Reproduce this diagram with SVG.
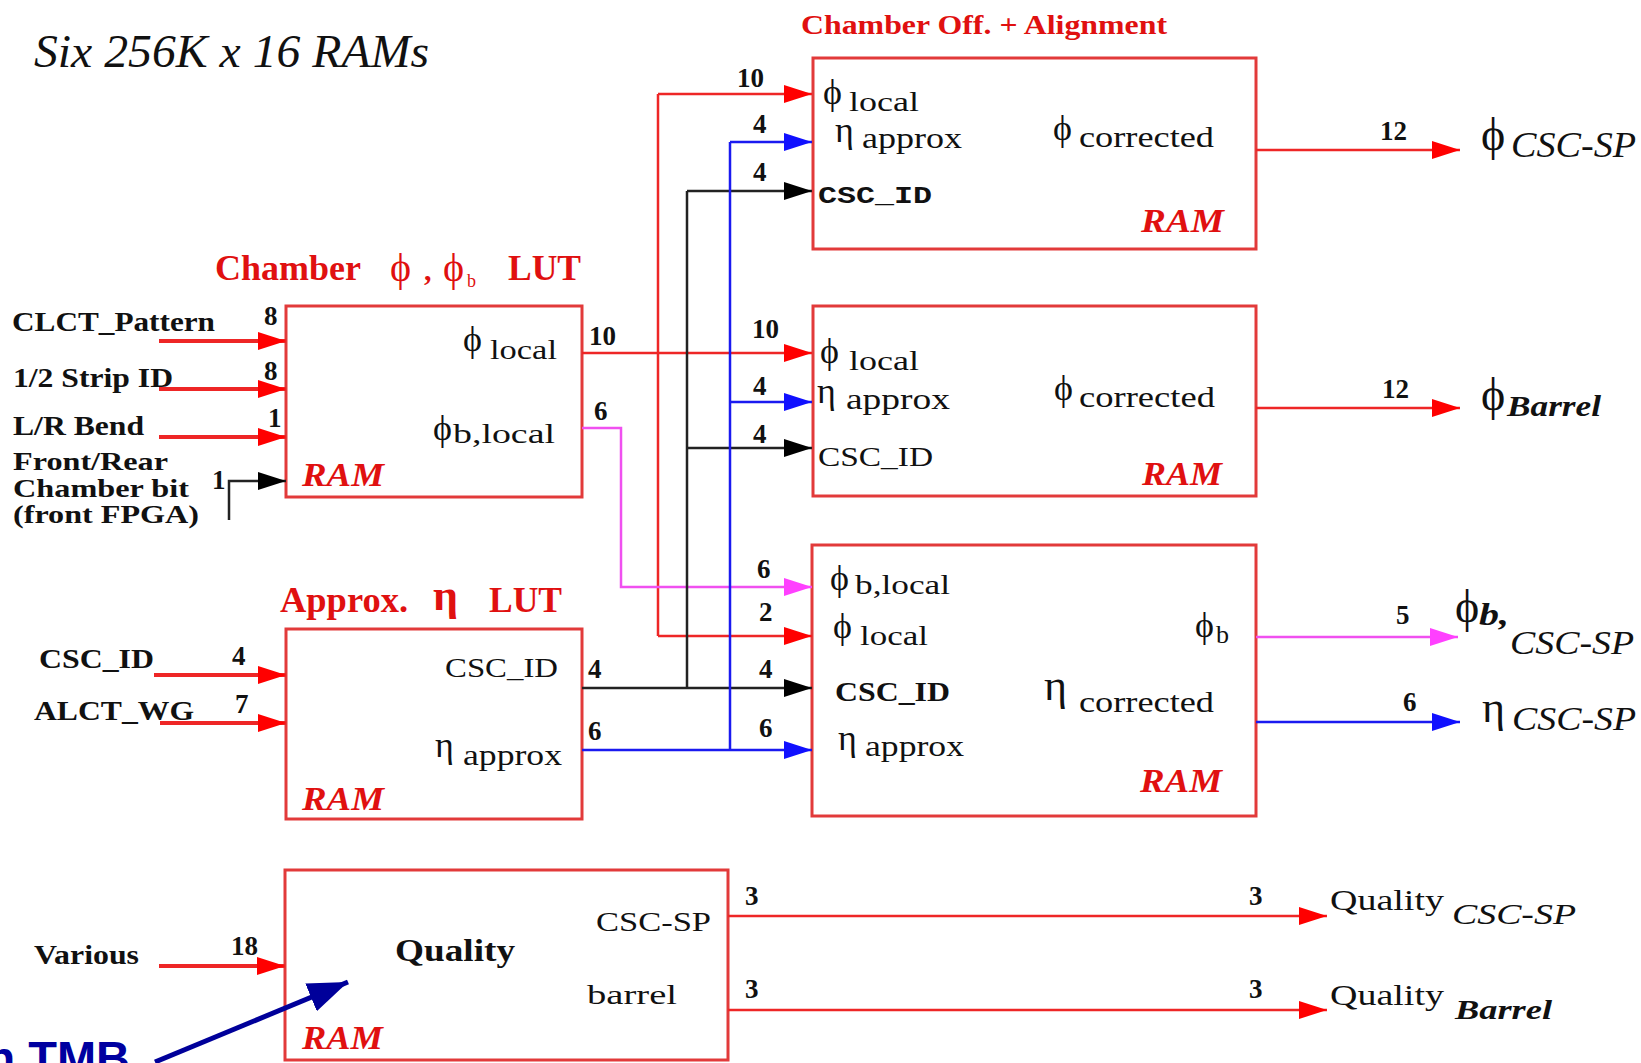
<svg xmlns="http://www.w3.org/2000/svg" width="1641" height="1063" viewBox="0 0 1641 1063">
<style>
.t{font-family:"Liberation Serif","DejaVu Serif",serif;fill:#111}
.b{font-weight:bold}
.i{font-style:italic}
.r{fill:#E01010}
.m{font-family:"Liberation Mono","DejaVu Sans Mono",monospace;font-weight:bold;fill:#111}
.box{fill:#fff;stroke:#E23A3A;stroke-width:3}
.w{fill:none;stroke-width:2.5}
.wr{stroke:#EE2626}
.wb{stroke:#1A1AF0}
.wk{stroke:#222}
.wm{stroke:#F050F0}
.in{stroke-width:4}
.n{font-size:27px;font-weight:bold}
.g{font-size:36px}
</style>
<defs>
<marker id="ar" markerUnits="userSpaceOnUse" markerWidth="30" markerHeight="20" refX="28" refY="9" orient="auto"><path d="M0,0 L28,9 L0,18 Z" fill="#FF0000"/></marker>
<marker id="ab" markerUnits="userSpaceOnUse" markerWidth="30" markerHeight="20" refX="28" refY="9" orient="auto"><path d="M0,0 L28,9 L0,18 Z" fill="#1010FF"/></marker>
<marker id="ak" markerUnits="userSpaceOnUse" markerWidth="30" markerHeight="20" refX="28" refY="9" orient="auto"><path d="M0,0 L28,9 L0,18 Z" fill="#000"/></marker>
<marker id="am" markerUnits="userSpaceOnUse" markerWidth="30" markerHeight="20" refX="28" refY="9" orient="auto"><path d="M0,0 L28,9 L0,18 Z" fill="#FF40FF"/></marker>
<marker id="an" markerUnits="userSpaceOnUse" markerWidth="42" markerHeight="32" refX="40" refY="15" orient="auto"><path d="M0,0 L40,15 L0,30 Z" fill="#00009A"/></marker>
</defs>
<rect width="1641" height="1063" fill="#fff"/>

<text class="t i" x="34" y="67" font-size="46" textLength="395" lengthAdjust="spacingAndGlyphs">Six 256K x 16 RAMs</text>

<!-- Chamber LUT -->
<g id="chamber-lut">
<rect class="box" x="286" y="306" width="296" height="191"/>
<text class="t b r" x="215" y="280" font-size="36" textLength="146" lengthAdjust="spacingAndGlyphs">Chamber</text>
<text class="t r" x="390" y="281" font-size="40">ϕ</text>
<text class="t r b" x="424" y="280" font-size="30">,</text>
<text class="t r" x="443" y="281" font-size="40">ϕ</text>
<text class="t r" x="467" y="287" font-size="18">b</text>
<text class="t b r" x="508" y="280" font-size="36" textLength="73" lengthAdjust="spacingAndGlyphs">LUT</text>
<text class="t g" x="463" y="351">ϕ</text>
<text class="t" x="490" y="359" font-size="28" textLength="67" lengthAdjust="spacingAndGlyphs">local</text>
<text class="t g" x="433" y="440">ϕ</text>
<text class="t" x="453" y="443" font-size="28" textLength="102" lengthAdjust="spacingAndGlyphs">b,local</text>
<text class="t b i r" x="302" y="486" font-size="34" textLength="82" lengthAdjust="spacingAndGlyphs">RAM</text>
</g>

<!-- Eta LUT -->
<g id="eta-lut">
<rect class="box" x="286" y="629" width="296" height="190"/>
<text class="t b r" x="280" y="612" font-size="36" textLength="128" lengthAdjust="spacingAndGlyphs">Approx.</text>
<text class="t b r" x="433" y="610" font-size="44">η</text>
<text class="t b r" x="489" y="612" font-size="36" textLength="73" lengthAdjust="spacingAndGlyphs">LUT</text>
<text class="t" x="445" y="677" font-size="28" textLength="113" lengthAdjust="spacingAndGlyphs">CSC_ID</text>
<text class="t g" x="435" y="757">η</text>
<text class="t" x="463" y="765" font-size="29" textLength="99" lengthAdjust="spacingAndGlyphs">approx</text>
<text class="t b i r" x="302" y="810" font-size="34" textLength="82" lengthAdjust="spacingAndGlyphs">RAM</text>
</g>

<!-- Quality RAM -->
<g id="quality">
<rect class="box" x="285" y="870" width="443" height="190"/>
<text class="t b" x="395" y="961" font-size="32" textLength="120" lengthAdjust="spacingAndGlyphs">Quality</text>
<text class="t" x="596" y="931" font-size="28" textLength="115" lengthAdjust="spacingAndGlyphs">CSC-SP</text>
<text class="t" x="587" y="1004" font-size="28" textLength="90" lengthAdjust="spacingAndGlyphs">barrel</text>
<text class="t b i r" x="302" y="1049" font-size="34" textLength="81" lengthAdjust="spacingAndGlyphs">RAM</text>
</g>

<!-- Chamber Off + Alignment RAM 1 -->
<g id="align-csc">
<rect class="box" x="813" y="58" width="443" height="191"/>
<text class="t b r" x="801" y="34" font-size="27" textLength="366" lengthAdjust="spacingAndGlyphs">Chamber Off. + Alignment</text>
<text class="t g" x="823" y="104">ϕ</text>
<text class="t" x="849" y="111" font-size="28" textLength="70" lengthAdjust="spacingAndGlyphs">local</text>
<text class="t g" x="835" y="142">η</text>
<text class="t" x="862" y="148" font-size="29" textLength="100" lengthAdjust="spacingAndGlyphs">approx</text>
<text class="m" x="818" y="203" font-size="24" textLength="114" lengthAdjust="spacingAndGlyphs">CSC_ID</text>
<text class="t g" x="1053" y="140">ϕ</text>
<text class="t" x="1079" y="147" font-size="29" textLength="135" lengthAdjust="spacingAndGlyphs">corrected</text>
<text class="t b i r" x="1141" y="232" font-size="34" textLength="83" lengthAdjust="spacingAndGlyphs">RAM</text>
</g>

<!-- RAM 2 -->
<g id="align-barrel">
<rect class="box" x="813" y="306" width="443" height="190"/>
<text class="t g" x="820" y="363">ϕ</text>
<text class="t" x="849" y="370" font-size="28" textLength="70" lengthAdjust="spacingAndGlyphs">local</text>
<text class="t g" x="817" y="403">η</text>
<text class="t" x="846" y="409" font-size="29" textLength="104" lengthAdjust="spacingAndGlyphs">approx</text>
<text class="t" x="818" y="466" font-size="28" textLength="115" lengthAdjust="spacingAndGlyphs">CSC_ID</text>
<text class="t g" x="1054" y="400">ϕ</text>
<text class="t" x="1079" y="407" font-size="29" textLength="136" lengthAdjust="spacingAndGlyphs">corrected</text>
<text class="t b i r" x="1142" y="485" font-size="34" textLength="80" lengthAdjust="spacingAndGlyphs">RAM</text>
</g>

<!-- RAM 3 -->
<g id="eta-corr">
<rect class="box" x="812" y="545" width="444" height="271"/>
<text class="t g" x="830" y="590">ϕ</text>
<text class="t" x="855" y="594" font-size="28" textLength="95" lengthAdjust="spacingAndGlyphs">b,local</text>
<text class="t g" x="833" y="638">ϕ</text>
<text class="t" x="860" y="645" font-size="28" textLength="68" lengthAdjust="spacingAndGlyphs">local</text>
<text class="t b" x="835" y="701" font-size="28" textLength="115" lengthAdjust="spacingAndGlyphs">CSC_ID</text>
<text class="t g" x="838" y="750">η</text>
<text class="t" x="865" y="756" font-size="29" textLength="99" lengthAdjust="spacingAndGlyphs">approx</text>
<text class="t g" x="1195" y="637">ϕ</text>
<text class="t" x="1216" y="643" font-size="26">b</text>
<text class="t" x="1044" y="700" font-size="44">η</text>
<text class="t" x="1079" y="712" font-size="29" textLength="135" lengthAdjust="spacingAndGlyphs">corrected</text>
<text class="t b i r" x="1140" y="792" font-size="34" textLength="82" lengthAdjust="spacingAndGlyphs">RAM</text>
</g>

<!-- Inputs / outputs labels -->
<g id="io-labels">
<text class="t b" x="12" y="331" font-size="27" textLength="203" lengthAdjust="spacingAndGlyphs">CLCT_Pattern</text>
<text class="t b" x="13" y="387" font-size="27" textLength="160" lengthAdjust="spacingAndGlyphs">1/2 Strip ID</text>
<text class="t b" x="13" y="435" font-size="27" textLength="131" lengthAdjust="spacingAndGlyphs">L/R Bend</text>
<text class="t b" x="13" y="470" font-size="26" textLength="155" lengthAdjust="spacingAndGlyphs">Front/Rear</text>
<text class="t b" x="13" y="497" font-size="26" textLength="176" lengthAdjust="spacingAndGlyphs">Chamber bit</text>
<text class="t b" x="13" y="523" font-size="26" textLength="186" lengthAdjust="spacingAndGlyphs">(front FPGA)</text>
<text class="t b" x="39" y="668" font-size="28" textLength="115" lengthAdjust="spacingAndGlyphs">CSC_ID</text>
<text class="t b" x="34" y="720" font-size="28" textLength="160" lengthAdjust="spacingAndGlyphs">ALCT_WG</text>
<text class="t b" x="34" y="964" font-size="28" textLength="105" lengthAdjust="spacingAndGlyphs">Various</text>

<text class="t" x="1481" y="150" font-size="46">ϕ</text>
<text class="t i" x="1511" y="157" font-size="36" textLength="125" lengthAdjust="spacingAndGlyphs">CSC-SP</text>
<text class="t" x="1481" y="410" font-size="46">ϕ</text>
<text class="t b i" x="1507" y="416" font-size="29" textLength="94" lengthAdjust="spacingAndGlyphs">Barrel</text>
<text class="t" x="1455" y="622" font-size="46">ϕ</text>
<text class="t b i" x="1479" y="625" font-size="32" textLength="30" lengthAdjust="spacingAndGlyphs">b,</text>
<text class="t i" x="1510" y="654" font-size="34" textLength="124" lengthAdjust="spacingAndGlyphs">CSC-SP</text>
<text class="t" x="1482" y="722" font-size="44">η</text>
<text class="t i" x="1512" y="730" font-size="34" textLength="124" lengthAdjust="spacingAndGlyphs">CSC-SP</text>
<text class="t" x="1330" y="910" font-size="30" textLength="114" lengthAdjust="spacingAndGlyphs">Quality</text>
<text class="t i" x="1452" y="924" font-size="30" textLength="124" lengthAdjust="spacingAndGlyphs">CSC-SP</text>
<text class="t" x="1330" y="1005" font-size="30" textLength="114" lengthAdjust="spacingAndGlyphs">Quality</text>
<text class="t b i" x="1455" y="1019" font-size="28" textLength="97" lengthAdjust="spacingAndGlyphs">Barrel</text>

<text fill="#0000A0" font-family="Liberation Sans, Arial, sans-serif" font-weight="bold" font-size="47" x="130" y="1074" text-anchor="end">n TMB</text>
</g>

<!-- Connectors -->
<g id="connectors">
<line class="w wr in" x1="159" y1="341" x2="286" y2="341" marker-end="url(#ar)"/>
<line class="w wr in" x1="159" y1="389" x2="286" y2="389" marker-end="url(#ar)"/>
<line class="w wr in" x1="159" y1="437" x2="286" y2="437" marker-end="url(#ar)"/>
<polyline class="w wk" points="229,520 229,481 286,481" marker-end="url(#ak)"/>
<line class="w wr in" x1="154" y1="675" x2="286" y2="675" marker-end="url(#ar)"/>
<line class="w wr in" x1="160" y1="723" x2="286" y2="723" marker-end="url(#ar)"/>
<line class="w wr in" x1="159" y1="966" x2="285" y2="966" marker-end="url(#ar)"/>

<line class="w wr" x1="658" y1="94" x2="658" y2="636"/>
<line class="w wr" x1="658" y1="94" x2="812" y2="94" marker-end="url(#ar)"/>
<line class="w wr" x1="582" y1="353" x2="812" y2="353" marker-end="url(#ar)"/>
<line class="w wr" x1="658" y1="636" x2="812" y2="636" marker-end="url(#ar)"/>

<polyline class="w wm" points="582,428 621,428 621,587 812,587" marker-end="url(#am)"/>

<line class="w wk" x1="687" y1="191" x2="687" y2="688"/>
<line class="w wk" x1="687" y1="191" x2="812" y2="191" marker-end="url(#ak)"/>
<line class="w wk" x1="687" y1="448" x2="812" y2="448" marker-end="url(#ak)"/>
<line class="w wk" x1="582" y1="688" x2="812" y2="688" marker-end="url(#ak)"/>

<line class="w wb" x1="730" y1="142" x2="730" y2="750"/>
<line class="w wb" x1="730" y1="142" x2="812" y2="142" marker-end="url(#ab)"/>
<line class="w wb" x1="730" y1="402" x2="812" y2="402" marker-end="url(#ab)"/>
<line class="w wb" x1="582" y1="750" x2="812" y2="750" marker-end="url(#ab)"/>

<line class="w wr" x1="1256" y1="150" x2="1460" y2="150" marker-end="url(#ar)"/>
<line class="w wr" x1="1256" y1="408" x2="1460" y2="408" marker-end="url(#ar)"/>
<line class="w wm" x1="1256" y1="637" x2="1458" y2="637" marker-end="url(#am)"/>
<line class="w wb" x1="1256" y1="722" x2="1460" y2="722" marker-end="url(#ab)"/>
<line class="w wr" x1="728" y1="916" x2="1327" y2="916" marker-end="url(#ar)"/>
<line class="w wr" x1="728" y1="1010" x2="1327" y2="1010" marker-end="url(#ar)"/>

<line x1="155" y1="1062" x2="348" y2="982" stroke="#00009A" stroke-width="5" marker-end="url(#an)"/>

<g class="t n">
<text x="264" y="325">8</text>
<text x="264" y="380">8</text>
<text x="268" y="427">1</text>
<text x="212" y="489">1</text>
<text x="232" y="665">4</text>
<text x="235" y="713">7</text>
<text x="231" y="955">18</text>
<text x="589" y="345">10</text>
<text x="594" y="420">6</text>
<text x="588" y="678">4</text>
<text x="588" y="740">6</text>
<text x="737" y="87">10</text>
<text x="753" y="133">4</text>
<text x="753" y="181">4</text>
<text x="752" y="338">10</text>
<text x="753" y="395">4</text>
<text x="753" y="443">4</text>
<text x="757" y="578">6</text>
<text x="759" y="621">2</text>
<text x="759" y="678">4</text>
<text x="759" y="737">6</text>
<text x="1380" y="140">12</text>
<text x="1382" y="398">12</text>
<text x="1396" y="624">5</text>
<text x="1403" y="711">6</text>
<text x="745" y="905">3</text>
<text x="745" y="998">3</text>
<text x="1249" y="905">3</text>
<text x="1249" y="998">3</text>
</g>
</g>
</svg>
